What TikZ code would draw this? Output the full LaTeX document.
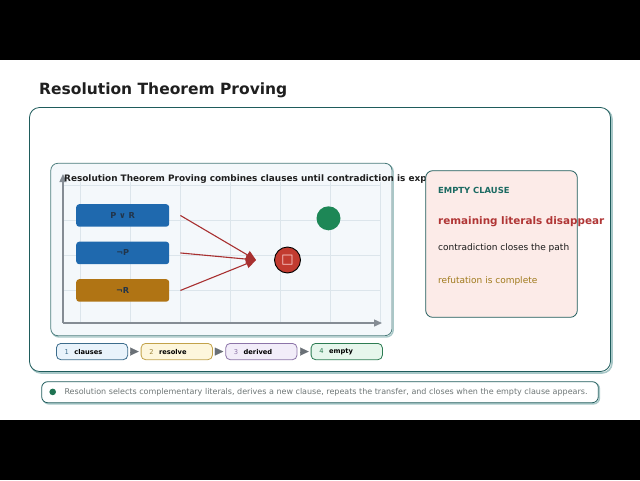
\documentclass[tikz,border=0pt]{standalone}
\usepackage{fontspec}
\setmainfont{DejaVu Sans}
\usetikzlibrary{arrows.meta}
\definecolor{framec}{HTML}{1F5C5C}
\definecolor{shadowc}{HTML}{A8C8C8}
\definecolor{panelfill}{HTML}{F4F8FB}
\definecolor{gridc}{HTML}{DCE5EB}
\definecolor{axisc}{HTML}{858C94}
\definecolor{bluebox}{HTML}{1F69AE}
\definecolor{orangebox}{HTML}{B07414}
\definecolor{boxtext}{HTML}{22354A}
\definecolor{redc}{HTML}{A83030}
\definecolor{redfill}{HTML}{C23B30}
\definecolor{greenfill}{HTML}{1D8756}
\definecolor{cardfill}{HTML}{FCEBE8}
\definecolor{tealtext}{HTML}{1B6A62}
\definecolor{redtext}{HTML}{B03535}
\definecolor{goldtext}{HTML}{A07A1C}
\definecolor{footertext}{HTML}{6E7676}
\definecolor{footdot}{HTML}{1E7352}
\definecolor{pAfill}{HTML}{E9F3FB}\definecolor{pAdraw}{HTML}{3C6C8C}
\definecolor{pBfill}{HTML}{FDF6DC}\definecolor{pBdraw}{HTML}{C2A24A}
\definecolor{pCfill}{HTML}{F2EDF9}\definecolor{pCdraw}{HTML}{8C74A8}
\definecolor{pDfill}{HTML}{E6F6EC}\definecolor{pDdraw}{HTML}{2C7C52}
\definecolor{steparr}{HTML}{6A7076}
\tikzset{
  x=1pt, y=-1pt,
  clausebox/.style={rounded corners=3pt, minimum width=93pt, minimum height=22.5pt, inner sep=0pt,
     font=\bfseries\fontsize{8.2}{9}\selectfont, text=boxtext, anchor=north west},
  resarrow/.style={draw=redc, line width=1.1pt, -{Triangle[length=10pt,width=9pt]}},
  pill/.style={rounded corners=4.5pt, line width=0.8pt, minimum width=71.3pt, minimum height=16.3pt,
     inner sep=0pt, anchor=north west, text width=55pt, align=left,
     font=\fontsize{6.7}{8}\selectfont},
  stepconn/.style={draw=steparr, fill=steparr, line width=0.1pt, -{Triangle[length=8.5pt,width=8pt]},
     shorten <=2.5pt, shorten >=2pt},
  cardtxt/.style={anchor=west, inner sep=0pt},
}
\begin{document}
\begin{tikzpicture}
\useasboundingbox (0,0) rectangle (640,480);
\fill[black] (0,0) rectangle (640,60);
\fill[black] (0,420) rectangle (640,480);
\fill[white] (0,60) rectangle (640,420);

% title
\node[anchor=west, inner sep=0pt, font=\bfseries\fontsize{15.5}{17}\selectfont, text=black!88] (title) at (39,90) {Resolution Theorem Proving};

% outer frame
\draw[shadowc, line width=1.6pt, rounded corners=10pt] (31,109) rectangle (612,373);
\draw[framec, fill=white, line width=0.8pt, rounded corners=10pt] (29.5,107.5) rectangle (610.5,371.5);

% panel
\draw[shadowc, line width=1.4pt, rounded corners=7pt] (52,164.6) rectangle (393.2,337);
\draw[framec!80, fill=panelfill, line width=0.8pt, rounded corners=7pt] (50.8,163.3) rectangle (392,335.7);

% grid
\foreach \gx in {80,130,180,230,280,330,380} \draw[gridc, line width=0.6pt] (\gx,182) -- (\gx,323);
\foreach \gy in {185,220,255,290} \draw[gridc, line width=0.6pt] (63,\gy) -- (380,\gy);

% axes
\coordinate (origin) at (63,323);
\coordinate (ytop) at (63,174);
\coordinate (xend) at (382,323);
\draw[axisc, line width=1.4pt, -{Triangle[length=8pt,width=7pt]}] (origin) -- (ytop);
\draw[axisc, line width=1.4pt, -{Triangle[length=8pt,width=7pt]}] (origin) -- (xend);

% panel title
\node[anchor=west, inner sep=0pt, font=\bfseries\fontsize{8.9}{10}\selectfont, text=black!88] (ptitle) at (64,178.8) {Resolution Theorem Proving combines clauses until contradiction is exp};

% clause boxes
\node[clausebox, fill=bluebox] (b1) at (76,204) {P ∨ R};
\node[clausebox, fill=bluebox] (b2) at (76,241.5) {¬P};
\node[clausebox, fill=orangebox] (b3) at (76,279) {¬R};

% resolution target
\coordinate (tip) at (256,260);
\draw[resarrow] ([xshift=11pt]b1.east) -- (tip);
\draw[resarrow] ([xshift=11pt,yshift=0pt]b2.east) -- (tip);
\draw[resarrow] ([xshift=11pt]b3.east) -- (tip);

\node[circle, draw=black, line width=0.9pt, fill=redfill, minimum size=26pt, inner sep=0pt,
      font=\fontsize{13}{13}\selectfont, text=red!15] (empty) at (287.5,260) {□};
\node[circle, fill=greenfill, minimum size=24pt, inner sep=0pt] (goal) at (328.5,218.3) {};

% card
\draw[framec, fill=cardfill, line width=0.8pt, rounded corners=7pt] (425.7,170.7) rectangle (577.3,317.3);
\node[cardtxt, font=\bfseries\fontsize{8.4}{10}\selectfont, text=tealtext] (c1) at (438,190) {EMPTY CLAUSE};
\node[cardtxt, font=\bfseries\fontsize{10.4}{12}\selectfont, text=redtext] (c2) at (438,222) {remaining literals disappear};
\node[cardtxt, font=\fontsize{9}{11}\selectfont, text=black!90] (c3) at (438,248) {contradiction closes the path};
\node[cardtxt, font=\fontsize{9}{11}\selectfont, text=goldtext] (c4) at (438,281) {refutation is complete};

% step pills
\node[pill, fill=pAfill, draw=pAdraw] (p1) at (56,343) {{\color{pAdraw}1}\hspace{5.5pt}\textbf{clauses}};
\node[pill, fill=pBfill, draw=pBdraw] (p2) at (140.7,343) {{\color{pBdraw!80!black}2}\hspace{5.5pt}\textbf{resolve}};
\node[pill, fill=pCfill, draw=pCdraw] (p3) at (225.3,343) {{\color{pCdraw}3}\hspace{5.5pt}\textbf{derived}};
\node[pill, fill=pDfill, draw=pDdraw] (p4) at (310.7,343) {{\color{pDdraw}4}\hspace{5.5pt}\textbf{empty}};
\draw[stepconn] (p1) -- (p2);
\draw[stepconn] (p2) -- (p3);
\draw[stepconn] (p3) -- (p4);

% footer
\draw[shadowc, line width=1.4pt, rounded corners=6pt] (42.9,382.9) rectangle (599.5,403.9);
\draw[framec, fill=white, line width=0.8pt, rounded corners=6pt] (41.7,381.7) rectangle (598.3,402.7);
\node[circle, fill=footdot, minimum size=6.6pt, inner sep=0pt] (fdot) at (52.7,391.9) {};
\node[anchor=west, inner sep=0pt, font=\fontsize{8}{9}\selectfont, text=footertext] (ftext) at (64.3,392)
  {Resolution selects complementary literals, derives a new clause, repeats the transfer, and closes when the empty clause appears.};
\end{tikzpicture}
\end{document}
